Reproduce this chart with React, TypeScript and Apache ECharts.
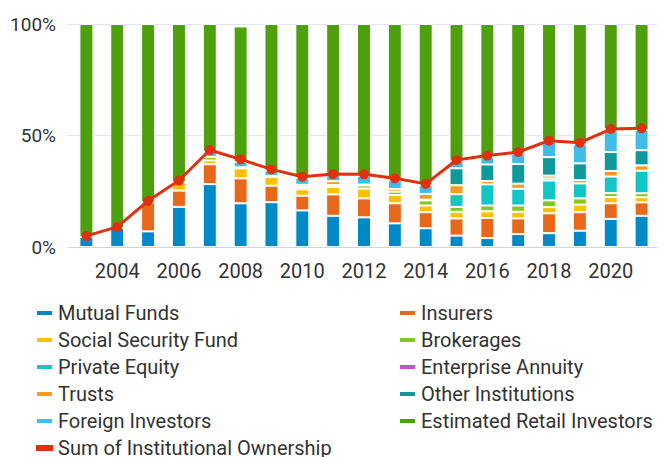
import React, { useEffect, useRef } from "react";
import * as echarts from "echarts";

const years = ["2003","2004","2005","2006","2007","2008","2009","2010","2011","2012","2013","2014","2015","2016","2017","2018","2019","2020","2021"];

const mutualFunds = [4.5, 8.5, 7.0, 18.0, 28.2, 19.6, 20.1, 16.4, 14.0, 13.3, 10.6, 8.4, 5.1, 4.0, 5.8, 6.2, 7.3, 12.6, 14.0];
const insurers = [0, 0, 13.0, 7.3, 8.9, 11.2, 7.4, 6.6, 9.6, 8.5, 9.0, 7.2, 7.7, 9.0, 7.0, 8.9, 8.3, 7.0, 6.0];
const socialSecurityFund = [0, 0, 0, 3.7, 1.7, 4.5, 3.9, 2.9, 3.3, 4.4, 3.7, 3.0, 3.0, 3.0, 3.0, 2.8, 3.4, 2.8, 2.3];
const brokerages = [0, 0, 0, 0, 1.6, 0.4, 0.5, 1.0, 0.9, 1.4, 1.5, 2.3, 2.2, 2.6, 2.8, 3.0, 2.8, 1.8, 1.8];
const privateEquity = [0, 0, 0, 0, 0, 0, 0, 0, 0, 0, 0, 0.3, 5.7, 9.5, 7.5, 8.9, 6.7, 7.4, 10.1];
const enterpriseAnnuity = [0, 0, 0, 0, 0, 0, 0, 0, 0, 0, 0, 0, 0, 0, 0, 0.9, 0, 0, 0];
const trusts = [0, 0, 0, 0, 0, 0, 0, 1.0, 1.7, 0.4, 1.2, 2.6, 4.0, 1.5, 2.3, 1.3, 1.5, 2.5, 2.4];
const otherInstitutions = [0, 0, 0, 0, 0, 0, 0, 0, 0, 0, 0, 0, 7.6, 7.4, 8.8, 8.3, 7.5, 8.5, 6.8];
const foreignInvestors = [0, 0, 0, 0, 2.3, 2.4, 2.4, 3.0, 2.9, 3.9, 3.9, 3.9, 3.4, 3.4, 4.8, 7.1, 8.6, 10.2, 9.0];
const retailInvestors = [95.5, 91.5, 80.0, 71.0, 57.3, 60.8, 65.7, 69.1, 67.6, 68.1, 70.1, 72.3, 61.3, 59.6, 58.0, 52.6, 53.9, 47.2, 47.6];
const sumInstitutional = [5.0, 9.0, 20.7, 29.8, 43.5, 39.3, 34.8, 31.5, 32.7, 32.6, 30.8, 28.3, 39.0, 41.0, 42.6, 47.7, 46.8, 52.9, 53.2];

const yTicks = [0, 50, 100];

const FONT = "Roboto";

const stackDefs = [
  { name: "Mutual Funds", data: mutualFunds, color: "#0089c7" },
  { name: "Insurers", data: insurers, color: "#e8681b" },
  { name: "Social Security Fund", data: socialSecurityFund, color: "#ffc000" },
  { name: "Brokerages", data: brokerages, color: "#84c623" },
  { name: "Private Equity", data: privateEquity, color: "#13c6c6" },
  { name: "Enterprise Annuity", data: enterpriseAnnuity, color: "#c54fd8" },
  { name: "Trusts", data: trusts, color: "#f99b1c" },
  { name: "Other Institutions", data: otherInstitutions, color: "#0e9a9a" },
  { name: "Foreign Investors", data: foreignInvestors, color: "#42bbe9" },
  { name: "Estimated Retail Investors", data: retailInvestors, color: "#4ea00f" },
];

export default function App() {
  const ref = useRef<HTMLDivElement>(null);
  useEffect(() => {
    if (!ref.current) return;
    const chart = echarts.init(ref.current, undefined, { renderer: "svg" });
    const barSeries = stackDefs.map((d) => ({
      name: d.name,
      type: "bar",
      stack: "total",
      barWidth: 14,
      data: d.data.map((v) => (v === 0 ? "-" : v)),
      itemStyle: { color: d.color, borderColor: "#ffffff", borderWidth: 1 },
      emphasis: { disabled: true },
    }));
    const legendText = { fontSize: 20, color: "#333333", fontFamily: FONT, lineHeight: 20 };
    const legendBase = {
      orient: "vertical",
      top: 298,
      height: 170,
      icon: "rect",
      itemWidth: 17,
      itemHeight: 6,
      itemGap: 7,
      textStyle: legendText,
    };
    chart.setOption({
      animation: false,
      color: stackDefs.map((d) => d.color).concat(["#e2300f"]),
      grid: { left: 71, right: 5, top: 24, bottom: 210, containLabel: false },
      legend: [
        {
          ...legendBase,
          left: 30,
          data: ["Mutual Funds", "Social Security Fund", "Private Equity", "Trusts", "Foreign Investors", "Sum of Institutional Ownership"],
        },
        {
          ...legendBase,
          left: 393,
          data: ["Insurers", "Brokerages", "Enterprise Annuity", "Other Institutions", "Estimated Retail Investors"],
        },
      ],
      xAxis: {
        type: "category",
        data: years,
        axisLine: { lineStyle: { color: "#cdd3df", width: 1 } },
        axisTick: {
          alignWithLabel: true,
          length: 11,
          interval: (i: number) => i % 2 === 1,
          lineStyle: { color: "#c9d3e8" },
        },
        axisLabel: {
          interval: (i: number) => i % 2 === 1,
          fontSize: 20,
          color: "#333333",
          fontFamily: FONT,
          margin: 14,
        },
      },
      yAxis: {
        type: "value",
        min: yTicks[0],
        max: yTicks[yTicks.length - 1],
        interval: 50,
        axisLine: { show: false },
        axisTick: { show: true, length: 4, lineStyle: { color: "#dfe2e8" } },
        splitLine: { lineStyle: { color: "#e2e4ea", width: 1 } },
        axisLabel: {
          formatter: "{value}%",
          fontSize: 19,
          color: "#333333",
          fontFamily: FONT,
          margin: 15,
        },
      },
      series: [
        ...barSeries,
        {
          name: "Sum of Institutional Ownership",
          type: "line",
          data: sumInstitutional,
          z: 5,
          symbol: "circle",
          symbolSize: 10,
          lineStyle: { color: "#e2300f", width: 3 },
          itemStyle: { color: "#e2300f" },
          emphasis: { disabled: true },
        },
      ],
    });
    return () => chart.dispose();
  }, []);
  return (
    <div
      ref={ref}
      style={{ position: "fixed", left: 0, top: 0, width: 662, height: 457, background: "#ffffff" }}
    />
  );
}
